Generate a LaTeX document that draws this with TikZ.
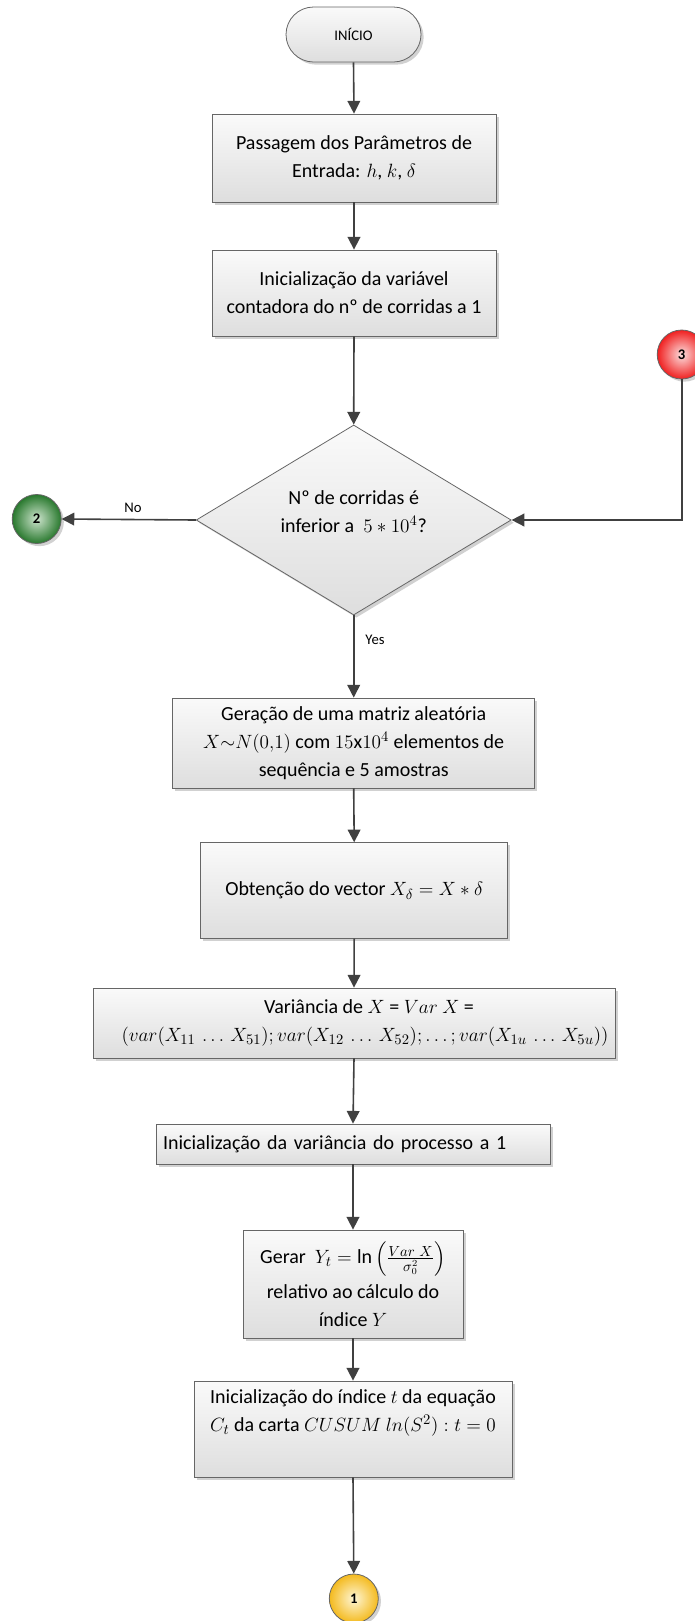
\documentclass[tikz,border=0pt]{standalone}
\usepackage{amsmath}
\usepackage{fontspec}
\setmainfont{Carlito}
\usetikzlibrary{arrows.meta,shapes.geometric,shadows}

% sizes are given in screen pixels (1px = 0.75pt)
\newcommand\pxl[1]{#1*0.75pt}

\tikzset{
  boxshade/.style={top color=black!2, bottom color=black!13},
  boxshadow/.style={drop shadow={shadow xshift=2pt, shadow yshift=-2pt, fill=black!18, opacity=1}},
  procbox/.style={draw=black!60, line width=0.6pt, boxshade, boxshadow,
    inner sep=0pt, align=center, font=\fontsize{15}{21}\selectfont},
  termbox/.style={draw=black!60, line width=0.6pt, boxshade, boxshadow,
    rounded corners=\pxl{27.5}, inner sep=0pt, font=\fontsize{11}{13}\selectfont},
  decbox/.style={diamond, draw=black!60, line width=0.6pt, boxshade, boxshadow, inner sep=0pt},
  dectext/.style={align=center, font=\fontsize{15}{21}\selectfont},
  connector/.style={circle, draw=black!60, line width=0.6pt, minimum size=\pxl{49}, inner sep=0pt,
    boxshadow, font=\fontsize{11}{13}\selectfont\bfseries},
  arr/.style={draw=black!75, line width=1.2pt, -{Triangle[length=9.5pt,width=9.5pt]}},
  lbl/.style={font=\fontsize{11}{13}\selectfont, inner sep=0pt}
}

\begin{document}
\begin{tikzpicture}[x=0.75pt, y=-0.75pt]
\useasboundingbox (0,0) rectangle (695,1621);
\clip (0,0) rectangle (695,1621);

% start terminal
\node[termbox, minimum width=\pxl{135}, minimum height=\pxl{55}] (start) at (353.5,34.5) {INÍCIO};

% process steps
\node[procbox, minimum width=\pxl{284}, minimum height=\pxl{88}] (b1) at (354,158)
  {Passagem dos Parâmetros de\\ Entrada: $h$, $k$, $\delta$};
\node[procbox, minimum width=\pxl{284}, minimum height=\pxl{86}] (b2) at (354,293)
  {Inicialização da variável\\ contadora do nº de corridas a 1};

% decision
\node[decbox, minimum width=\pxl{315}, minimum height=\pxl{190}] (dia) at (353.7,520) {};
\node[dectext] (diatxt) at (353.7,512) {Nº de corridas é\\ inferior a \ $5\ast10^{4}$?};

% off-page connectors
\node[connector, inner color={rgb,255:red,252;green,222;blue,222}, outer color={rgb,255:red,240;green,32;blue,32}]
  (c3) at (681.7,354.5) {3};
\node[connector, inner color={rgb,255:red,205;green,228;blue,205}, outer color={rgb,255:red,40;green,120;blue,45}]
  (c2) at (36.7,519) {2};
\node[connector, inner color={rgb,255:red,254;green,246;blue,214}, outer color={rgb,255:red,244;green,186;blue,30}]
  (c1) at (353.8,1598.5) {1};

\node[procbox, minimum width=\pxl{362}, minimum height=\pxl{90}] (b3) at (353.7,743)
  {Geração de uma matriz aleatória\\ $X{\sim}N(0{,}1)$ com $15\mathrm{x}10^{4}$ elementos de\\ sequência e 5 amostras};
\node[procbox, minimum width=\pxl{307}, minimum height=\pxl{95.6}] (b4) at (354.2,890.5)
  {Obtenção do vector $X_{\delta} = X \ast \delta$};
\node[procbox, minimum width=\pxl{522}, minimum height=\pxl{70}] (b5) at (354,1023)
  {\hspace*{22.5pt}Variância de $X$ = $Var\ X$ =\\ \hspace*{16.5pt}$(var(X_{11}\,\ldots\,X_{51}); var(X_{12}\,\ldots\,X_{52});\ldots; var(X_{1u}\,\ldots\,X_{5u}))$};
\node[procbox, text width=\pxl{380}, inner xsep=\pxl{7}, align=left, minimum height=\pxl{40}] (b6) at (353,1144)
  {Inicialização da variância do processo a 1};
\node[procbox, minimum width=\pxl{220}, minimum height=\pxl{108}] (b7) at (353,1284)
  {Gerar \ $Y_t = \ln\left(\frac{Var\ X}{\sigma_0^2}\right)$\\[5pt] relativo ao cálculo do\\ índice $Y$};
\node[procbox, minimum width=\pxl{318}, minimum height=\pxl{96}] (b8) at (353,1429)
  {Inicialização do índice $t$ da equação\\ $C_t$ da carta $CUSUM\ ln(S^{2}) : t = 0$\\[6pt]};

% flow
\draw[arr] (start.south) -- (b1.north);
\draw[arr] (b1.south) -- (b2.north);
\draw[arr] (b2.south) -- (dia.north);
\draw[arr] (c3.south) |- (dia.east);
\draw[arr] (dia.west) -- (c2.east);
\draw[arr] (dia.south) -- (b3.north);
\draw[arr] (b3.south) -- (b4.north);
\draw[arr] (b4.south) -- (b5.north);
\draw[arr] (b5.south) -- (b6.north);
\draw[arr] (b6.south) -- (b7.north);
\draw[arr] (b7.south) -- (b8.north);
\draw[arr] (b8.south) -- (c1.north);

% branch labels
\node[lbl] (no) at (133,508) {No};
\node[lbl] (yes) at (375,640) {Yes};
\end{tikzpicture}
\end{document}
